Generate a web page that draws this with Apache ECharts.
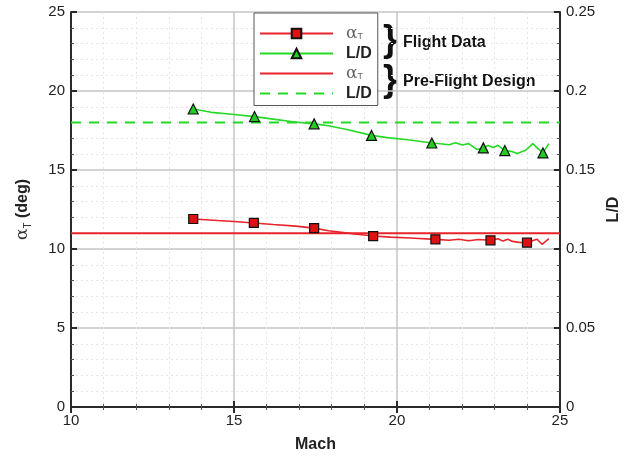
<!DOCTYPE html>
<html>
<head>
<meta charset="utf-8">
<script src="https://cdn.jsdelivr.net/npm/echarts@6/dist/echarts.min.js"></script>
<style>
  html, body { margin: 0; padding: 0; background: #fff; }
  #chart { width: 630px; height: 458px; }
</style>
</head>
<body>
<div id="chart"></div>
<script>
// Flight trajectory: total angle of attack (deg) versus Mach
const flightAlphaMach = [13.75, 14.5, 15.0, 15.61, 16.2, 16.9, 17.46, 17.9, 18.3, 18.7, 19.27, 19.8, 20.4, 21.18, 21.6, 21.9, 22.2, 22.5, 22.87, 23.1, 23.25, 23.4, 23.55, 23.75, 23.99, 24.2, 24.3, 24.45, 24.6, 24.66];
const flightAlpha     = [11.9, 11.8, 11.74, 11.65, 11.55, 11.45, 11.32, 11.15, 11.05, 10.95, 10.82, 10.75, 10.7, 10.61, 10.55, 10.62, 10.52, 10.6, 10.55, 10.65, 10.5, 10.62, 10.48, 10.42, 10.4, 10.55, 10.62, 10.3, 10.55, 10.65];
const alphaMarkerMach = [13.75, 15.61, 17.46, 19.27, 21.18, 22.87, 23.99];

// Flight trajectory: lift-to-drag ratio versus Mach
const flightLDMach = [13.75, 14.3, 14.94, 15.63, 16.2, 16.8, 17.46, 17.9, 18.5, 19.22, 19.7, 20.4, 21.07, 21.4, 21.6, 21.8, 22.0, 22.2, 22.45, 22.65, 22.8, 22.95, 23.1, 23.31, 23.5, 23.69, 23.95, 24.17, 24.3, 24.48, 24.66];
const flightLD     = [0.1886, 0.1865, 0.1853, 0.1838, 0.1822, 0.1805, 0.1792, 0.178, 0.1755, 0.1719, 0.1705, 0.169, 0.1671, 0.1665, 0.166, 0.1672, 0.1658, 0.1667, 0.163, 0.164, 0.1655, 0.1642, 0.1656, 0.1623, 0.1618, 0.1604, 0.1625, 0.1667, 0.164, 0.1608, 0.1667];
const ldMarkerMach = [13.75, 15.63, 17.46, 19.22, 21.07, 22.65, 23.31, 24.48];

// Pre-flight design values (constant across the Mach range)
const designMach  = [10, 25];
const designAlpha = [11.0, 11.0];
const designLD    = [0.18, 0.18];

// Axis ticks
const machTicks  = [10, 15, 20, 25];
const alphaTicks = [0, 5, 10, 15, 20, 25];
const ldTicks    = [0, 0.05, 0.1, 0.15, 0.2, 0.25];

const RED = '#e8242a';
const GREEN = '#26d926';
const FONT = '"Liberation Sans", Arial, sans-serif';

function withMarkers(xs, ys, marked) {
  return xs.map((x, i) => {
    const item = { value: [x, ys[i]] };
    if (!marked.includes(x)) item.symbol = 'none';
    return item;
  });
}
function pairs(xs, ys) { return xs.map((x, i) => [x, ys[i]]); }

const legendText = {
  'Flight αT': '{a|α}{s|T}',
  'Flight L/D': '{b|L/D}',
  'Design αT': '{a|α}{s|T}',
  'Design L/D': '{b|L/D}'
};

const axisCommon = {
  axisLine: { show: true, lineStyle: { color: '#2a2a2a', width: 2 } },
  axisTick: { show: true, inside: true, length: 6, lineStyle: { color: '#2a2a2a', width: 2 } },
  minorTick: { show: true, splitNumber: 5, length: 3, lineStyle: { color: '#555', width: 1 } },
  axisLabel: { color: '#222', fontSize: 15, fontFamily: FONT, margin: 6 }
};

const chart = echarts.init(document.getElementById('chart'), null, { renderer: 'canvas' });

chart.setOption({
  animation: false,
  backgroundColor: '#fff',
  textStyle: { fontFamily: FONT },
  grid: { left: 71, right: 66, top: 12, bottom: 48 },
  xAxis: [
    Object.assign({}, axisCommon, {
      type: 'value', position: 'bottom',
      min: machTicks[0], max: machTicks[machTicks.length - 1], interval: 5,
      name: 'Mach', nameLocation: 'middle', nameGap: 30,
      nameTextStyle: { fontSize: 16, fontWeight: 'bold', color: '#222', fontFamily: FONT },
      splitLine: { show: true, lineStyle: { color: '#c4c4c4', width: 1.5 } },
      minorSplitLine: { show: true, lineStyle: { color: '#e6e6e6', width: 1, type: [2, 3] } }
    }),
    Object.assign({}, axisCommon, {
      type: 'value', position: 'top',
      min: machTicks[0], max: machTicks[machTicks.length - 1], interval: 5,
      axisLabel: { show: false },
      splitLine: { show: false }
    })
  ],
  yAxis: [
    Object.assign({}, axisCommon, {
      type: 'value', position: 'left',
      min: alphaTicks[0], max: alphaTicks[alphaTicks.length - 1], interval: 5,
      name: '{a|α}{s|T}{n| (deg)}', nameLocation: 'middle', nameGap: 38, nameRotate: 90,
      nameTextStyle: {
        rich: {
          a: { fontSize: 17, color: '#333', fontFamily: '"DejaVu Serif", serif' },
          s: { fontSize: 10, color: '#333', fontFamily: FONT, verticalAlign: 'bottom', padding: [10, 0, 0, 0] },
          n: { fontSize: 16, fontWeight: 'bold', color: '#222', fontFamily: FONT }
        }
      },
      splitLine: { show: true, lineStyle: { color: '#c4c4c4', width: 1.5 } },
      minorSplitLine: { show: true, lineStyle: { color: '#e6e6e6', width: 1, type: [2, 3] } }
    }),
    Object.assign({}, axisCommon, {
      type: 'value', position: 'right',
      min: ldTicks[0], max: ldTicks[ldTicks.length - 1], interval: 0.05,
      name: 'L/D', nameLocation: 'middle', nameGap: 44, nameRotate: 90,
      nameTextStyle: { fontSize: 16, fontWeight: 'bold', color: '#222', fontFamily: FONT },
      splitLine: { show: false },
      axisLabel: Object.assign({}, axisCommon.axisLabel, { formatter: v => String(+v.toFixed(2)) })
    })
  ],
  legend: {
    orient: 'vertical',
    left: 254, top: 13,
    padding: [12, 6, 4, 5],
    itemWidth: 73, itemHeight: 12, itemGap: 3.5,
    backgroundColor: '#fff',
    borderColor: '#555', borderWidth: 1,
    selectedMode: false,
    data: [
      { name: 'Flight αT' },
      { name: 'Flight L/D' },
      { name: 'Design αT', itemStyle: { opacity: 0 } },
      { name: 'Design L/D', itemStyle: { opacity: 0 } }
    ],
    formatter: name => legendText[name],
    textStyle: {
      padding: [0, 0, 0, 8],
      lineHeight: 16,
      rich: {
        a: { fontSize: 17, color: '#666', fontFamily: '"DejaVu Serif", serif', lineHeight: 16 },
        s: { fontSize: 9, color: '#666', fontFamily: FONT, verticalAlign: 'bottom', lineHeight: 12 },
        b: { fontSize: 16, fontWeight: 'bold', color: '#222', fontFamily: FONT, lineHeight: 16 }
      }
    }
  },
  graphic: [
    { type: 'text', left: 383, top: 22, style: { text: '}', font: 'bold 37px "Liberation Sans", Arial, sans-serif', fill: '#111' } },
    { type: 'text', left: 403, top: 35, style: { text: 'Flight Data', font: 'bold 16px "Liberation Sans", Arial, sans-serif', fill: '#111' } },
    { type: 'text', left: 383, top: 62, style: { text: '}', font: 'bold 37px "Liberation Sans", Arial, sans-serif', fill: '#111' } },
    { type: 'text', left: 403, top: 74, style: { text: 'Pre-Flight Design', font: 'bold 16px "Liberation Sans", Arial, sans-serif', fill: '#111' } }
  ],
  series: [
    {
      name: 'Design αT', type: 'line', xAxisIndex: 0, yAxisIndex: 0,
      data: pairs(designMach, designAlpha),
      symbol: 'none', lineStyle: { color: RED, width: 2 }, itemStyle: { color: RED }, z: 2
    },
    {
      name: 'Design L/D', type: 'line', xAxisIndex: 0, yAxisIndex: 1,
      data: pairs(designMach, designLD),
      symbol: 'none', lineStyle: { color: GREEN, width: 2, type: [10, 8] }, itemStyle: { color: GREEN }, z: 2
    },
    {
      name: 'Flight αT', type: 'line', xAxisIndex: 0, yAxisIndex: 0,
      data: withMarkers(flightAlphaMach, flightAlpha, alphaMarkerMach),
      symbol: 'rect', symbolSize: 9, showSymbol: true, showAllSymbol: true,
      lineStyle: { color: RED, width: 1.6 },
      itemStyle: { color: '#dd1111', borderColor: '#111', borderWidth: 1.2 }, z: 3
    },
    {
      name: 'Flight L/D', type: 'line', xAxisIndex: 0, yAxisIndex: 1,
      data: withMarkers(flightLDMach, flightLD, ldMarkerMach),
      symbol: 'triangle', symbolSize: 10, showSymbol: true, showAllSymbol: true,
      lineStyle: { color: GREEN, width: 1.6 },
      itemStyle: { color: '#22cc22', borderColor: '#111', borderWidth: 1.2 }, z: 3
    }
  ]
});
</script>
</body>
</html>
